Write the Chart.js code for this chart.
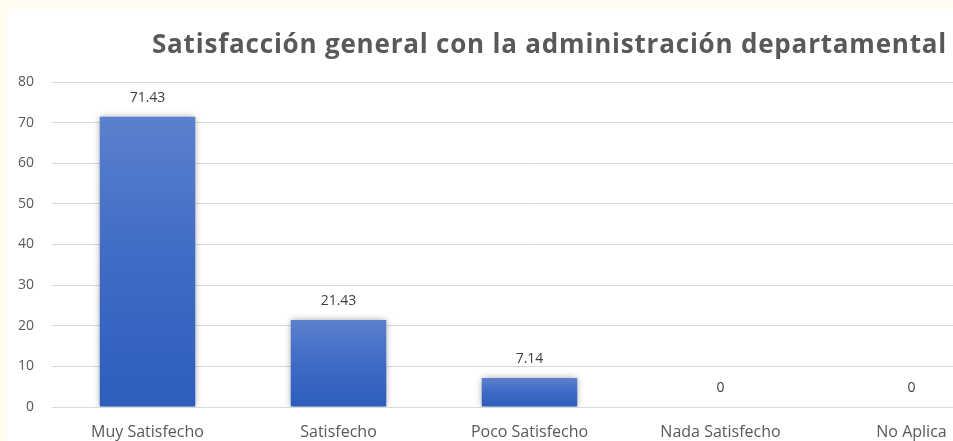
<!DOCTYPE html>
<html>
<head>
<meta charset="utf-8">
<script src="https://cdn.jsdelivr.net/npm/chart.js@4.4.1/dist/chart.umd.min.js"></script>
<style>
  html, body { margin: 0; padding: 0; width: 953px; height: 441px; overflow: hidden; background: #fffdf0; }
  #panel { position: absolute; left: 7px; top: 9px; width: 1000px; height: 450px; background: #ffffff; }
  #title { position: absolute; left: 145px; top: 16px; white-space: nowrap; line-height: 26px; letter-spacing: 0.8px;
           font: bold 26px "Open Sans", Lato, sans-serif; color: #595959; }
  #wrap { position: absolute; left: 0; top: 0; width: 1000px; height: 450px; }
</style>
</head>
<body>
<div id="panel">
  <div id="wrap"><canvas id="c"></canvas></div>
  <div id="title">Satisfacción general con la administración departamental</div>
</div>
<script>
const categories = ["Muy Satisfecho", "Satisfecho", "Poco Satisfecho", "Nada Satisfecho", "No Aplica"];
const values = [71.43, 21.43, 7.14, 0, 0];
const valueLabels = ["71.43", "21.43", "7.14", "0", "0"];
const yMin = 0, yMax = 80, yStep = 10;
const FONT = '"Open Sans", Lato, sans-serif';

const shadowPlugin = {
  id: 'shadow',
  beforeDatasetsDraw(chart) {
    const ctx = chart.ctx;
    ctx.save();
    ctx.shadowColor = 'rgba(0,0,0,0.4)';
    ctx.shadowBlur = 7;
    ctx.shadowOffsetX = 0;
    ctx.shadowOffsetY = 0;
  },
  afterDatasetsDraw(chart) {
    const ctx = chart.ctx;
    ctx.restore();
    const meta = chart.getDatasetMeta(0);
    ctx.save();
    ctx.font = '14px ' + FONT;
    ctx.fillStyle = '#404040';
    ctx.textAlign = 'center';
    ctx.textBaseline = 'middle';
    meta.data.forEach((bar, i) => {
      ctx.fillText(valueLabels[i], bar.x, bar.y - 19);
    });
    ctx.restore();
  }
};

function barGradient(context) {
  const chart = context.chart;
  const ys = chart.scales && chart.scales.y;
  if (!ys || !chart.chartArea) return '#4470c4';
  const v = context.raw || 0;
  const top = ys.getPixelForValue(v);
  const base = ys.getPixelForValue(0);
  if (!isFinite(top) || !isFinite(base) || base - top < 1) return '#4470c4';
  const g = chart.ctx.createLinearGradient(0, top, 0, base);
  g.addColorStop(0, '#5b80cd');
  g.addColorStop(0.5, '#3f6bc6');
  g.addColorStop(1, '#2e5dbd');
  return g;
}

new Chart(document.getElementById('c'), {
  type: 'bar',
  data: {
    labels: categories,
    datasets: [{
      data: values,
      backgroundColor: barGradient,
      borderWidth: 0,
      categoryPercentage: 1.0,
      barPercentage: 0.5
    }]
  },
  plugins: [shadowPlugin],
  options: {
    responsive: true,
    maintainAspectRatio: false,
    animation: false,
    devicePixelRatio: 1,
    layout: { padding: { top: 73, right: 0, bottom: 0, left: 0 } },
    plugins: { legend: { display: false }, title: { display: false }, tooltip: { enabled: false } },
    scales: {
      x: {
        grid: { display: false, drawTicks: false },
        border: { display: true, color: '#d9d9d9', width: 1 },
        ticks: { color: '#595959', font: { size: 16, family: FONT }, padding: 16, maxRotation: 0, autoSkip: false },
        afterFit(s) { s.height = 52; }
      },
      y: {
        min: yMin, max: yMax,
        grid: { color: '#d9d9d9', lineWidth: 1, drawTicks: false },
        border: { display: false },
        ticks: { stepSize: yStep, color: '#595959', font: { size: 14, family: FONT }, padding: 18 },
        afterFit(s) { s.width = 45; }
      }
    }
  }
});
</script>
</body>
</html>
